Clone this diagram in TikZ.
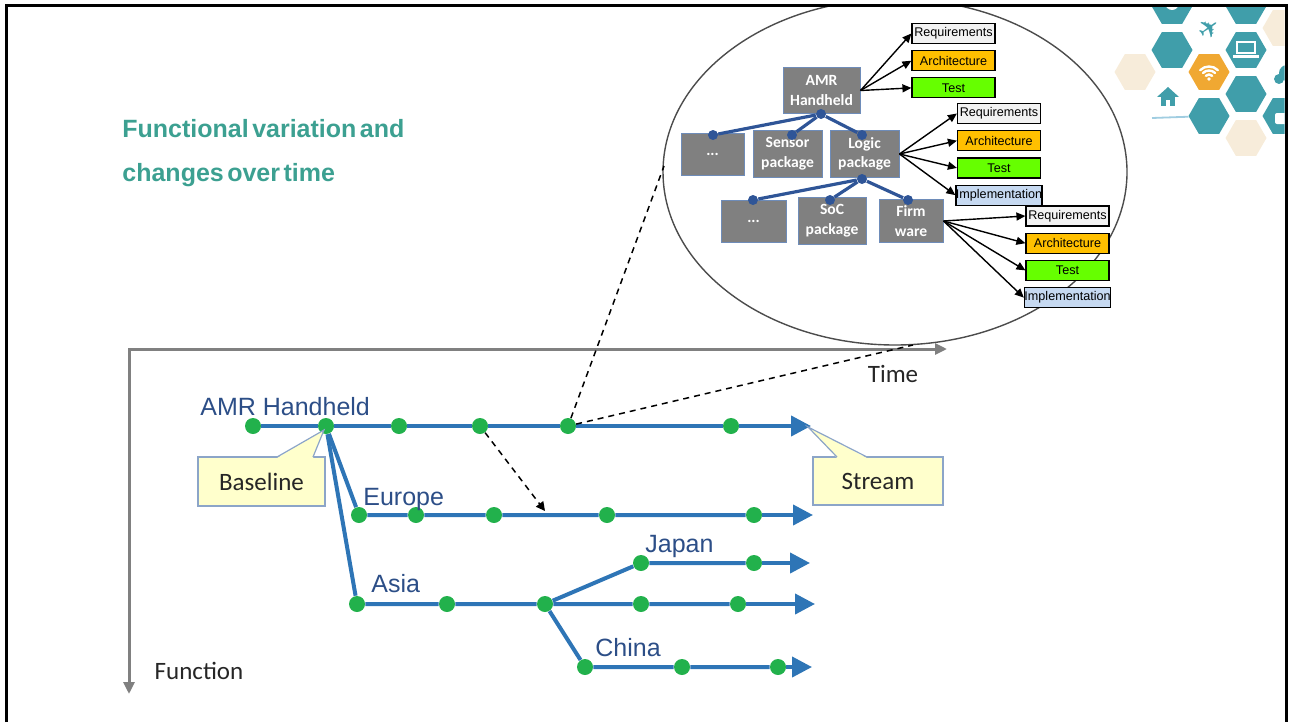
\documentclass[tikz,border=0pt]{standalone}
\usepackage{fontspec}
\setmainfont{Liberation Sans}
\newfontfamily\calibri{Carlito}
\newfontfamily\titlefont[WordSpace=0.5]{Liberation Sans}
\newfontfamily\symbolfont{DejaVu Sans}
\usetikzlibrary{shapes.geometric, positioning, arrows.meta}

\definecolor{titleteal}{RGB}{60,160,145}
\definecolor{axisgray}{RGB}{128,128,128}
\definecolor{streamblue}{RGB}{46,117,182}
\definecolor{labelblue}{RGB}{44,78,135}
\definecolor{dotgreen}{RGB}{34,177,76}
\definecolor{calloutfill}{RGB}{255,255,204}
\definecolor{calloutedge}{RGB}{140,165,200}
\definecolor{blockgray}{RGB}{128,128,128}
\definecolor{blockedge}{RGB}{110,140,185}
\definecolor{treeblue}{RGB}{47,85,151}
\definecolor{reqgray}{RGB}{242,242,242}
\definecolor{archorange}{RGB}{255,192,0}
\definecolor{testgreen}{RGB}{102,255,0}
\definecolor{implblue}{RGB}{198,217,241}
\definecolor{hexteal}{RGB}{64,158,170}
\definecolor{hexorange}{RGB}{240,168,50}
\definecolor{hexbeige}{RGB}{247,236,218}
\definecolor{homeblue}{RGB}{160,205,225}

\begin{document}
\begin{tikzpicture}[
          x=0.5pt, y=-0.5pt,
          slideframe/.style = {draw=black, line width=1.5pt},
          title/.style = {font=\titlefont\bfseries\fontsize{12.5}{15}\selectfont, text=titleteal, inner sep=0pt, anchor=base west},
          axisline/.style = {draw=axisgray, line width=1.5pt},
          axislabel/.style = {font=\calibri\fontsize{12.5}{15}\selectfont, text=black!85},
          stream/.style = {draw=streamblue, line width=2pt},
          streamend/.style = {stream, -{Triangle[length=10pt, width=10pt]}},
          streamlabel/.style = {font=\fontsize{12.5}{14}\selectfont, text=labelblue, inner sep=0pt, anchor=base west},
          dot/.style = {circle, fill=dotgreen, inner sep=0pt, minimum size=8pt},
          notebox/.style = {draw=calloutedge, fill=calloutfill, line width=0.6pt, font=\calibri\fontsize{12.5}{15}\selectfont, text=black!85},
          hint/.style = {draw=black, line width=0.75pt, dash pattern=on 3pt off 2.5pt},
          lens/.style = {draw=black!70, line width=0.7pt},
          block/.style = {draw=blockedge, fill=blockgray, line width=0.5pt, text=white, font=\calibri\bfseries\fontsize{7.8}{9.8}\selectfont, align=center, inner sep=0pt},
          joint/.style = {circle, fill=treeblue, inner sep=0pt, minimum size=5pt},
          branch/.style = {draw=treeblue, line width=1.6pt},
          artifact/.style = {draw=black, line width=0.6pt, minimum width=41.5pt, minimum height=10pt, inner sep=0pt, font=\fontsize{6.3}{7}\selectfont},
          flow/.style = {draw=black, line width=0.7pt, -{Triangle[length=4.5pt, width=4pt]}},
          hex/.style = {regular polygon, regular polygon sides=6, minimum size=20.5pt, inner sep=0pt}
         ]

        \useasboundingbox (0,0) rectangle (1293,722);

        % Hexagon corner decoration
        \begin{scope}
        \clip (0,7.5) rectangle (1284.5,722);
        \node[hex, fill=hexteal] (hexGear) at (1172,6) {};
        \node[hex, fill=hexteal] (hexTop) at (1246,6) {};
        \node[hex, fill=hexbeige] (hexBeigeA) at (1283,28) {};
        \node[hex, fill=hexteal] (hexTeal1) at (1172,50) {};
        \node[hex, fill=hexteal] (hexLaptop) at (1246,50) {};
        \node[hex, fill=hexbeige] (hexBeigeB) at (1135,72) {};
        \node[hex, fill=hexorange] (hexWifi) at (1209,72) {};
        \node[hex, fill=hexteal] (hexTeal2) at (1246,94) {};
        \node[hex, fill=hexteal] (hexTeal3) at (1209,116) {};
        \node[hex, fill=hexteal] (hexCar) at (1283,116) {};
        \node[hex, fill=hexbeige] (hexBeigeC) at (1246,138) {};
        % icons
        \fill[white] (1172,3) circle[radius=7];
        \fill[hexteal] (1172,3) circle[radius=2.5];
        \node[text=hexteal, rotate=35, font=\symbolfont\fontsize{13}{13}\selectfont] (plane) at (1209,29) {✈};
        \draw[white, line width=0.9pt] (1237,42) rectangle (1255,53);
        \fill[white] (1233,55) rectangle (1259,58);
        \draw[white, line width=1.2pt, line cap=round] (1209,79) ++(225:4.5) arc[start angle=225, end angle=315, radius=4.5];
        \draw[white, line width=1.2pt, line cap=round] (1209,79) ++(225:8.5) arc[start angle=225, end angle=315, radius=8.5];
        \draw[white, line width=1.2pt, line cap=round] (1209,79) ++(225:12.5) arc[start angle=225, end angle=315, radius=12.5];
        \fill[white] (1209,79) circle[radius=1.8];
        \fill[hexteal] (1157,97) -- (1168,87) -- (1179,97) -- cycle;
        \fill[hexteal] (1161,96) rectangle (1175,106);
        \fill[white] (1166,100) rectangle (1170,106);
        \coordinate (homeLine) at (1152,118);
        \draw[homeblue, line width=0.9pt] (homeLine) -- (hexTeal3);
        \fill[hexteal] (1279,79) circle[radius=5];
        \fill[hexteal] (1287,73) circle[radius=8];
        \fill[white, rounded corners=1pt] (1275,113) rectangle (1292,124);
        \end{scope}

        % Zoom lens
        \begin{scope}
        \clip (0,7) rectangle (1293,722);
        \draw[lens] (895,172) ellipse [x radius=232, y radius=173];
        \end{scope}

        % Slide frame
        \draw[slideframe] (6,722) -- (6,6) -- (1286,6) -- (1286,722);

        % Title
        \node[title] (title1) at (122,137) {Functional variation and};
        \node[title] (title2) at (122,181) {changes over time};

        % Axes
        \coordinate (origin) at (129,349);
        \coordinate (timeEnd) at (947,349);
        \coordinate (funcEnd) at (129,694);
        \draw[axisline, {Triangle[length=6pt, width=5.5pt]}-{Triangle[length=6pt, width=5.5pt]}] (timeEnd) -- (origin) -- (funcEnd);
        \node[axislabel] (time) at (893,374) {Time};
        \node[axislabel] (function) at (199,671) {Function};

        % AMR Handheld stream
        \node[dot] (h1) at (253,426) {};
        \node[dot] (h2) at (326,426) {};
        \node[dot] (h3) at (399,426) {};
        \node[dot] (h4) at (480,426) {};
        \node[dot] (h5) at (568,426) {};
        \node[dot] (h6) at (731,426) {};
        \coordinate (hEnd) at (811,426);
        \node[streamlabel] (amrLabel) at (200,415) {AMR Handheld};

        % Europe stream
        \node[dot] (e1) at (359,515) {};
        \node[dot] (e2) at (416,515) {};
        \node[dot] (e3) at (494,515) {};
        \node[dot] (e4) at (607,515) {};
        \node[dot] (e5) at (754,515) {};
        \coordinate (eEnd) at (813,515);
        \node[streamlabel] (europeLabel) at (363,505) {Europe};

        % Asia stream
        \node[dot] (a1) at (357,604) {};
        \node[dot] (a2) at (447,604) {};
        \node[dot] (a3) at (545,604) {};
        \node[dot] (a4) at (641,604) {};
        \node[dot] (a5) at (738,604) {};
        \coordinate (aEnd) at (815,604);
        \node[streamlabel] (asiaLabel) at (371,592) {Asia};

        % Japan and China streams
        \node[dot] (j1) at (641,563) {};
        \node[dot] (j2) at (754,563) {};
        \coordinate (jEnd) at (810,563);
        \node[streamlabel] (japanLabel) at (645,552) {Japan};
        \node[dot] (c1) at (585,667) {};
        \node[dot] (c2) at (682,667) {};
        \node[dot] (c3) at (778,667) {};
        \coordinate (cEnd) at (812,667);
        \node[streamlabel] (chinaLabel) at (595,656) {China};

        \draw[stream] (h1) -- (h2) -- (h3) -- (h4) -- (h5) -- (h6);
        \draw[streamend] (h6) -- (hEnd);
        \draw[stream] (h2) -- (e1) -- (e2) -- (e3) -- (e4) -- (e5);
        \draw[streamend] (e5) -- (eEnd);
        \draw[stream] (h2) -- (a1) -- (a2) -- (a3) -- (a4) -- (a5);
        \draw[streamend] (a5) -- (aEnd);
        \draw[stream] (a3) -- (j1) -- (j2);
        \draw[streamend] (j2) -- (jEnd);
        \draw[stream] (a3) -- (c1) -- (c2) -- (c3);
        \draw[streamend] (c3) -- (cEnd);

        % Callouts
        \node[notebox, minimum width=63.5pt, minimum height=24.5pt] (baseline) at (261.5,481.5) {Baseline};
        \coordinate (baseTip) at (324,430);
        \fill[calloutfill] (277,458) -- (baseTip) -- (313,458) -- cycle;
        \draw[calloutedge, line width=0.6pt] (277,457) -- (baseTip) -- (313,457);

        \node[notebox, minimum width=65pt, minimum height=24pt] (streamNote) at (878,481) {Stream};
        \coordinate (streamTip) at (808,427);
        \fill[calloutfill] (837,458) -- (streamTip) -- (867,458) -- cycle;
        \draw[calloutedge, line width=0.6pt] (837,457) -- (streamTip) -- (867,457);

        % Dashed hints
        \coordinate (mergeTip) at (545,511);
        \coordinate (lensLeft) at (664,166);
        \coordinate (lensLow) at (913,345);
        \draw[hint, -{Triangle[length=4.5pt, width=4.5pt]}] (h4) -- (mergeTip);
        \draw[hint] (h5) -- (lensLeft);
        \draw[hint] (h5) -- (lensLow);

        % Product tree
        \node[block, minimum width=38.5pt, minimum height=22.5pt] (amr) at (821.5,90.5) {AMR\\Handheld};
        \node[block, minimum width=31.5pt, minimum height=21pt] (more1) at (712.5,154) {...};
        \node[block, minimum width=34.5pt, minimum height=23.5pt, right=4pt of more1] (sensor) {Sensor\\package};
        \node[block, minimum width=34.5pt, minimum height=23.5pt, right=3.5pt of sensor] (logic) {Logic\\package};
        \node[block, minimum width=32.5pt, minimum height=21pt] (more2) at (753.5,221) {...};
        \node[block, minimum width=34pt, minimum height=23.5pt, right=5.5pt of more2] (soc) {SoC\\package};
        \node[block, minimum width=32pt, minimum height=21.5pt, right=6pt of soc] (firm) {Firm\\ware};

        \node[joint] (k0) at (821,114) {};
        \node[joint] (k1) at (713,135) {};
        \node[joint] (k2) at (792,135) {};
        \node[joint] (k3) at (862,135) {};
        \node[joint] (k4) at (862,179) {};
        \node[joint] (k5) at (753,200) {};
        \node[joint] (k6) at (830,200) {};
        \node[joint] (k7) at (908,200) {};
        \draw[branch] (k0) -- (k1);
        \draw[branch] (k0) -- (k2);
        \draw[branch] (k0) -- (k3);
        \draw[branch] (k4) -- (k5);
        \draw[branch] (k4) -- (k6);
        \draw[branch] (k4) -- (k7);

        % Work products of AMR Handheld
        \node[artifact, fill=reqgray] (req1) at (953.5,33.5) {Requirements};
        \node[artifact, fill=archorange, below=3pt of req1] (arch1) {Architecture};
        \node[artifact, fill=testgreen, below=3pt of arch1] (test1) {Test};

        % Work products of Logic package
        \node[artifact, fill=reqgray] (req2) at (999,113.5) {Requirements};
        \node[artifact, fill=archorange, below=3pt of req2] (arch2) {Architecture};
        \node[artifact, fill=testgreen, below=3pt of arch2] (test2) {Test};
        \node[artifact, fill=implblue, below=3pt of test2] (impl2) {Implementation};

        % Work products of Firmware
        \node[artifact, fill=reqgray] (req3) at (1067.5,216) {Requirements};
        \node[artifact, fill=archorange, below=3pt of req3] (arch3) {Architecture};
        \node[artifact, fill=testgreen, below=3pt of arch3] (test3) {Test};
        \node[artifact, fill=implblue, below=3pt of test3] (impl3) {Implementation};

        \draw[flow] (amr.east) -- (req1.west);
        \draw[flow] (amr.east) -- (arch1.west);
        \draw[flow] (amr.east) -- (test1.west);
        \draw[flow] (logic.east) -- (req2.west);
        \draw[flow] (logic.east) -- (arch2.west);
        \draw[flow] (logic.east) -- (test2.west);
        \draw[flow] (logic.east) -- (impl2.west);
        \draw[flow] (firm.east) -- (req3.west);
        \draw[flow] (firm.east) -- (arch3.west);
        \draw[flow] (firm.east) -- (test3.west);
        \draw[flow] (firm.east) -- (impl3.west);

        \end{tikzpicture}
\end{document}
